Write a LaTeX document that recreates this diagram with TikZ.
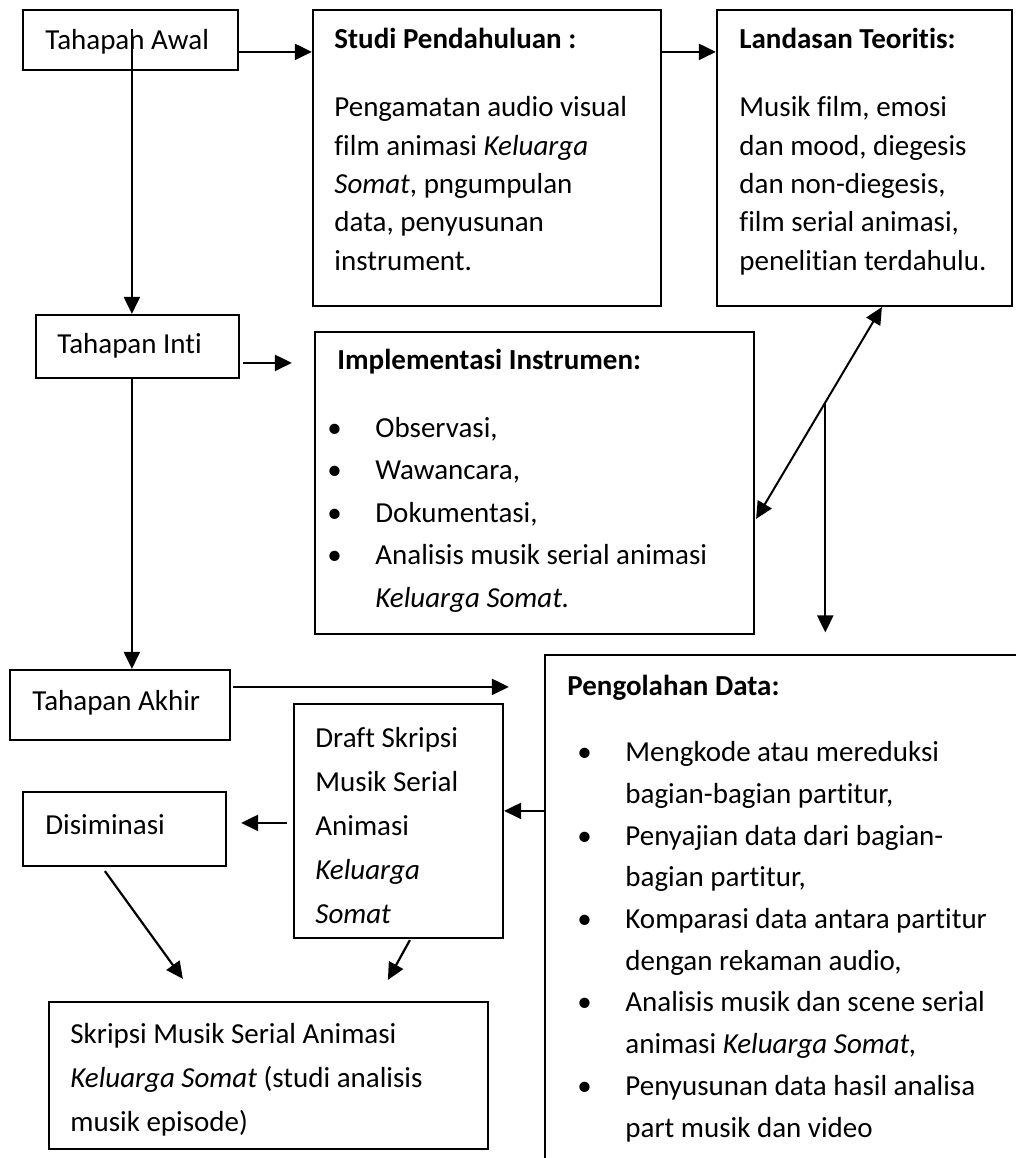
\documentclass[tikz,border=0pt]{standalone}
\usepackage{fontspec}
\setmainfont{Carlito}[Ligatures={NoCommon,NoContextual}]
\usetikzlibrary{arrows.meta,fit}

\newcommand{\bul}{\makebox[24pt][l]{\textbullet}}
\newcommand{\ind}{\makebox[24pt]{}}

\tikzset{
  box/.style={draw, line width=1.1pt, inner sep=0pt, fit={#1}},
  txt/.style={anchor=base west, inner sep=0pt, align=left, font=\fontsize{14.5}{19.15}\selectfont},
  ttl/.style={txt, font=\fontsize{14.5}{19.15}\selectfont\bfseries},
  arr/.style={line width=1.1pt, -{Triangle[length=8.5pt,width=8pt]}},
  arrtwo/.style={line width=1pt, {Triangle[length=8.5pt,width=8pt]}-{Triangle[length=8.5pt,width=8pt]}}
}

\begin{document}
\begin{tikzpicture}[x=0.5pt,y=-0.5pt]
    \useasboundingbox (0,0) rectangle (1016,1158);

    % Kotak tahapan di kolom kiri
    \node[box={(23,10) (238,70)}] (awal) {};
    \node[txt] (awaltxt) at (45,49) {Tahapan Awal};
    \node[box={(36,315) (239,378)}] (inti) {};
    \node[txt] (intitxt) at (57,353) {Tahapan Inti};
    \node[box={(10,670) (230,740)}] (akhir) {};
    \node[txt] (akhirtxt) at (32,710) {Tahapan Akhir};
    \node[box={(23,792) (226,866)}] (disim) {};
    \node[txt] (disimtxt) at (45,834) {Disiminasi};

    % Studi pendahuluan (teks multi-baris: base = baris terakhir)
    \node[box={(313,10) (661,306)}] (studi) {};
    \node[ttl] (studittl) at (334,48) {Studi Pendahuluan :};
    \node[txt] (studitxt) at (334,270) {Pengamatan audio visual\\film animasi \textit{Keluarga}\\\textit{Somat}, pngumpulan\\data, penyusunan\\instrument.};

    % Landasan teoritis
    \node[box={(717,10) (1012,306)}] (landasan) {};
    \node[ttl] (landasanttl) at (739,48) {Landasan Teoritis:};
    \node[txt] (landasantxt) at (739,270) {Musik film, emosi\\dan mood, diegesis\\dan non-diegesis,\\film serial animasi,\\penelitian terdahulu.};

    % Implementasi instrumen
    \node[box={(315,332) (754,634)}] (impl) {};
    \node[ttl] (implttl) at (337,369) {Implementasi Instrumen:};
    \node[txt, font=\fontsize{14.5}{21.25}\selectfont] (impltxt) at (327,607) {\bul Observasi,\\\bul Wawancara,\\\bul Dokumentasi,\\\bul Analisis musik serial animasi\\\ind\textit{Keluarga Somat.}};

    % Pengolahan data (terpotong di tepi)
    \node[box={(545,655) (1040,1180)}] (olah) {};
    \node[ttl] (olahttl) at (567,695) {Pengolahan Data:};
    \node[txt, font=\fontsize{14.5}{20.85}\selectfont] (olahtxt) at (577,1137) {\bul Mengkode atau mereduksi\\\ind bagian-bagian partitur,\\\bul Penyajian data dari bagian-\\\ind bagian partitur,\\\bul Komparasi data antara partitur\\\ind dengan rekaman audio,\\\bul Analisis musik dan scene serial\\\ind animasi \textit{Keluarga Somat,}\\\bul Penyusunan data hasil analisa\\\ind part musik dan video};

    % Draft dan skripsi
    \node[box={(294,704) (503,938)}] (draft) {};
    \node[txt, font=\fontsize{14.5}{22}\selectfont] (drafttxt) at (315,923) {Draft Skripsi\\Musik Serial\\Animasi\\\textit{Keluarga}\\\textit{Somat}};
    \node[box={(49,1002) (488,1149)}] (skripsi) {};
    \node[txt, font=\fontsize{14.5}{22}\selectfont] (skripsitxt) at (70,1131) {Skripsi Musik Serial Animasi\\\textit{Keluarga Somat} (studi analisis\\musik episode)};

    % Panah alur utama
    \draw[arr] ([shift={(0,43)}]awal.north east) -- ([shift={(0,43)}]studi.north west);
    \draw[arr] ([shift={(0,43)}]studi.north east) -- ([shift={(0,43)}]landasan.north west);
    \draw[arr] ([shift={(110,20)}]awal.north west) -- ([shift={(97,0)}]inti.north west);
    \draw[arr] ([shift={(3,49)}]inti.north east) -- ([shift={(-22,32)}]impl.north west);
    \draw[arr] ([shift={(97,0)}]inti.south west) -- ([shift={(123,0)}]akhir.north west);
    \draw[arr] ([shift={(2,18)}]akhir.north east) -- ([shift={(-35,33)}]olah.north west);

    % Panah dua arah dan cabang ke pengolahan data
    \draw[arrtwo] ([shift={(166,0)}]landasan.south west) -- ([shift={(1,188)}]impl.north east)
        coordinate[pos=0.45] (cabang);
    \draw[arr] (cabang) -- ++(0,230);

    % Panah ke hasil akhir
    \draw[arr] ([shift={(0,157)}]olah.north west) -- ([shift={(0,108)}]draft.north east);
    \draw[arr] ([shift={(-6,120)}]draft.north west) -- ([shift={(14,32)}]disim.north east);
    \draw[arr] ([shift={(83,4)}]disim.south west) -- ([shift={(135,-22)}]skripsi.north west);
    \draw[arr] ([shift={(117,1)}]draft.south west) -- ([shift={(340,-21)}]skripsi.north west);

\end{tikzpicture}
\end{document}
